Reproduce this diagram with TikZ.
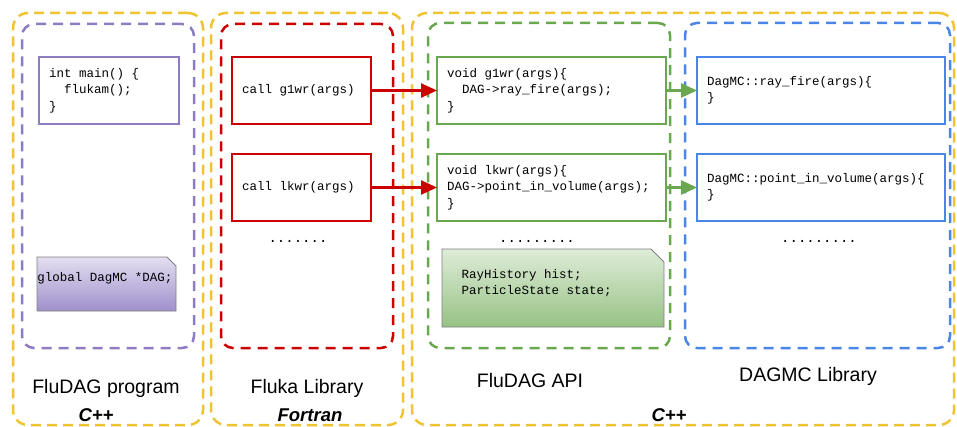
\documentclass[tikz,border=0pt]{standalone}
\usepackage{fontspec}
\setmainfont{Liberation Sans}
\newfontfamily\codefont{Liberation Mono}
\usetikzlibrary{positioning,arrows.meta}

\definecolor{gdyellow}{HTML}{F1C232}
\definecolor{gdpurple}{HTML}{8E7CC3}
\definecolor{gdred}{HTML}{CC0000}
\definecolor{gdgreen}{HTML}{6AA84F}
\definecolor{gdblue}{HTML}{4A86E8}

\tikzset{
  langarea/.style={draw=gdyellow, line width=2.5pt, dash pattern=on 10pt off 6pt,
    rounded corners=15pt, anchor=north west, inner sep=0pt, outer sep=0pt},
  modarea/.style={draw=#1, line width=2.5pt, dash pattern=on 10pt off 7pt,
    rounded corners=12pt, anchor=north west, inner sep=0pt, outer sep=0pt},
  codebox/.style={draw=#1, line width=2.5pt, font=\codefont\fontsize{12.5}{16.5}\selectfont,
    align=left, minimum height=67pt, inner xsep=10pt, inner ysep=0pt, outer sep=0pt,
    execute at begin node={\spaceskip=0pt\xspaceskip=0pt\relax}},
  calls/.style={draw=#1, line width=2.5pt, -{Triangle[length=16pt,width=14pt]}},
  areaname/.style={font=\fontsize{19.5}{22}\selectfont, anchor=base},
  langname/.style={font=\fontsize{18.5}{22}\selectfont\bfseries\itshape, anchor=base},
  morecalls/.style={font=\codefont\fontsize{14}{16}\selectfont},
  notetext/.style={font=\codefont\fontsize{12.5}{16.5}\selectfont, align=left},
}

\begin{document}
\begin{tikzpicture}[x=1pt,y=-1pt]
\useasboundingbox (0,0) rectangle (957,427);

% language groups
\node[langarea, minimum width=190pt, minimum height=412pt] (progside) at (13,13) {};
\node[langarea, minimum width=192pt, minimum height=412pt] (flukaside) at (211,13) {};
\node[langarea, minimum width=542pt, minimum height=412pt] (cppside) at (412,13) {};

% modules
\node[modarea=gdpurple, minimum width=172pt, minimum height=324pt] (progarea) at (22,24) {};
\node[modarea=gdred, minimum width=172pt, minimum height=324pt] (flukaarea) at (221,24) {};
\node[modarea=gdgreen, minimum width=242pt, minimum height=325pt] (apiarea) at (428,23) {};
\node[modarea=gdblue, minimum width=265pt, minimum height=325pt] (dagmcarea) at (685,23) {};

% code
\node[codebox=gdpurple, text width=120pt, anchor=north west] (mainfn) at (39,57)
  {int main() \{\\\hspace*{15pt}flukam();\\\}};
\node[codebox=gdred, text width=119pt, anchor=north west] (g1call) at (232,57) {call g1wr(args)};
\node[codebox=gdred, text width=119pt, below=30pt of g1call] (lkcall) {call lkwr(args)};
\node[codebox=gdgreen, text width=209pt, right=66pt of g1call] (g1api)
  {void g1wr(args)\{\\\hspace*{15pt}DAG->ray\_fire(args);\\\}};
\node[codebox=gdgreen, text width=209pt, below=30pt of g1api] (lkapi)
  {void lkwr(args)\{\\DAG->point\_in\_volume(args);\\\}};
\node[codebox=gdblue, text width=228pt, right=31pt of g1api] (rayfire)
  {DagMC::ray\_fire(args)\{\\\}};
\node[codebox=gdblue, text width=228pt, below=30pt of rayfire] (pointvol)
  {DagMC::point\_in\_volume(args)\{\\\}};

\node[morecalls] (morefluka) at (298,241) {.......};
\node[morecalls] (moreapi) at (537,241) {.........};
\node[morecalls] (moredagmc) at (819,241) {.........};

% notes
\shadedraw[top color=gdpurple!25, bottom color=gdpurple!85, draw=gray, line width=0.8pt]
  (37,257) -- (167,257) -- (176,266) -- (176,311) -- (37,311) -- cycle;
\node[notetext] (dagglobal) at (105,278) {global DagMC *DAG;};
\shadedraw[top color=gdgreen!22, bottom color=gdgreen!70, draw=gray, line width=0.8pt]
  (442,249) -- (651,249) -- (664,262) -- (664,327) -- (442,327) -- cycle;
\node[notetext, anchor=west] (apistate) at (458,283) {RayHistory hist;\\ParticleState state;};

% calls
\draw[calls=gdred] (g1call) -- (g1api);
\draw[calls=gdred] (lkcall) -- (lkapi);
\draw[calls=gdgreen] (g1api) -- (rayfire);
\draw[calls=gdgreen] (lkapi) -- (pointvol);

% names
\node[areaname] (proglabel) at (106,393) {FluDAG program};
\node[langname] (proglang) at (96,421) {C++};
\node[areaname] (flukalabel) at (307,393) {Fluka Library};
\node[langname] (flukalang) at (310,421) {Fortran};
\node[areaname] (apilabel) at (530,387) {FluDAG API};
\node[areaname] (dagmclabel) at (808,381) {DAGMC Library};
\node[langname] (cpplang) at (669,421) {C++};
\end{tikzpicture}
\end{document}
